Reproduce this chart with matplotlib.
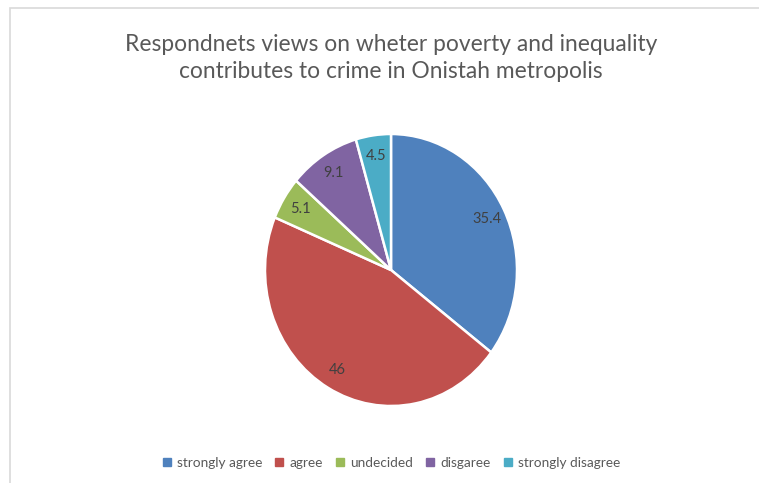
import matplotlib
matplotlib.use("Agg")
import matplotlib.pyplot as plt
from matplotlib.patches import Rectangle
from matplotlib.lines import Line2D

categories = ["strongly agree", "agree", "undecided", "disgaree", "strongly disagree"]
values = [35.4, 46, 5.1, 9.1, 4.5]
value_labels = ["35.4", "46", "5.1", "9.1", "4.5"]
colors = ["#4F81BD", "#C0504D", "#9BBB59", "#8064A2", "#4BACC6"]
title = "Respondnets views on wheter poverty and inequality\ncontributes to crime in Onistah metropolis"

plt.rcParams["font.family"] = ["Lato", "DejaVu Sans"]

W, H = 759, 483
fig = plt.figure(figsize=(W / 100, H / 100), dpi=100)
fig.patch.set_facecolor("white")

# chart-area frame (left and top edges visible)
fig.add_artist(Rectangle((10 / W, -0.1), 1.2, (H - 8) / H + 0.1, transform=fig.transFigure,
                         facecolor="none", edgecolor="#D9D9D9", linewidth=1.2))

# pie axes, slightly taller than wide
cx, cy, rx, ry = 391, 270, 126, 136
ax = fig.add_axes([(cx - rx) / W, (H - cy - ry) / H, 2 * rx / W, 2 * ry / H])
wedges, texts, autotexts = ax.pie(
    values, colors=colors, startangle=90, counterclock=False,
    autopct="%1.1f", pctdistance=0.85,
    wedgeprops=dict(edgecolor="white", linewidth=1.8),
    textprops=dict(color="#404040", fontsize=10.5),
)
for t, lab in zip(autotexts, value_labels):
    t.set_text(lab)
ax.set_aspect("auto")
ax.set_xlim(-1, 1)
ax.set_ylim(-1, 1)
ax.axis("off")

fig.text(cx / W, 1 - 58 / H, title, ha="center", va="center", fontsize=16.4,
         color="#595959", linespacing=1.35)

handles = [Line2D([], [], marker="s", linestyle="none", markersize=5.5,
                  markerfacecolor=c, markeredgecolor=c) for c in colors]
fig.legend(handles, categories, loc="center", bbox_to_anchor=(cx / W, 1 - 463 / H),
           ncol=5, frameon=False, fontsize=9.8, labelcolor="#595959",
           handlelength=0.7, handletextpad=0.4, columnspacing=0.9)

fig.savefig("out.png", dpi=100, facecolor="white")
